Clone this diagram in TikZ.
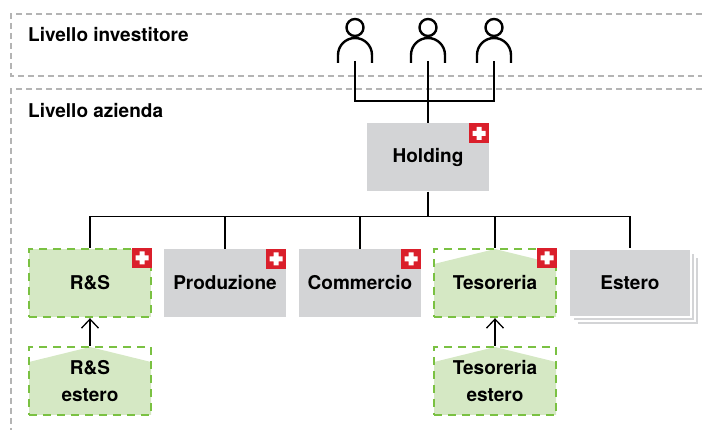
\documentclass[tikz,border=0pt]{standalone}
\usepackage{fontspec}
\setmainfont{TeX Gyre Heros}
\usepackage{xcolor}
\usetikzlibrary{arrows.meta,shadows,calc}

\definecolor{boxgray}{HTML}{D3D4D6}
\definecolor{lightgreen}{HTML}{D5E8C4}
\definecolor{dashgreen}{HTML}{7AC142}
\definecolor{swissred}{HTML}{DA1F2B}
\definecolor{levelgray}{HTML}{B4B4B4}

\tikzset{
  txt/.style={font=\bfseries\fontsize{19}{27}\selectfont, align=center},
  levelline/.style={draw=levelgray, line width=1.2pt, dash pattern=on 6pt off 4pt},
  personline/.style={line width=2.4pt},
  link/.style={line width=1.3pt},
  unit/.style={txt, minimum width=122pt, minimum height=68pt, inner sep=0pt},
  graybox/.style={unit, fill=boxgray},
  greenbox/.style={unit, fill=lightgreen, draw=dashgreen, line width=2.4pt, dash pattern=on 8pt off 6pt},
  housebox/.style={unit, draw=dashgreen, line width=2.4pt, dash pattern=on 8pt off 6pt,
    path picture={\fill[lightgreen] ($(path picture bounding box.north west)+(0,15)$)
      -- (path picture bounding box.north)
      -- ($(path picture bounding box.north east)+(0,15)$)
      |- (path picture bounding box.south west) -- cycle;}},
  flag/.style={fill=swissred, minimum width=20pt, minimum height=20pt, inner sep=0pt, anchor=north east,
    path picture={\fill[white, shift={(path picture bounding box.center)}]
      (-6.5,-2.5) rectangle (6.5,2.5) (-2.5,-6.5) rectangle (2.5,6.5);}},
  uptip/.style={-{Straight Barb[length=9pt, width=17pt]}, link}
}

\begin{document}
\begin{tikzpicture}[x=1pt, y=-1pt]
\useasboundingbox (0,0) rectangle (702,430);

% levels
\draw[levelline] (702,14) -- (11,14) -- (11,76) -- (702,76);
\draw[levelline] (702,89) -- (11,89) -- (11,430);
\node[txt, anchor=west, inner sep=0pt] (lvlinv) at (28,35) {Livello investitore};
\node[txt, anchor=west, inner sep=0pt] (lvlaz) at (28,111) {Livello azienda};

% investors
\foreach \px/\nm in {355/p1, 428/p2, 494/p3} {
  \draw[personline] (\px,27.5) circle (8.5);
  \draw[personline] (\px-17,63) -- (\px-17,55) arc (180:360:17) -- (\px+17,63);
  \coordinate (\nm) at (\px,61);
}

% company level
\node[graybox] (hold) at (428,157.5) {Holding};
\node[flag] (fhold) at (hold.north east) {};

\node[greenbox] (rs) at (90,283) {R\&S};
\node[graybox] (prod) at (225,283) {Produzione};
\node[graybox] (comm) at (360,283) {Commercio};
\node[housebox] (tes) at (495,283) {Tesoreria};
\node[graybox, draw=white, line width=1.2pt,
  double copy shadow={shadow xshift=4pt, shadow yshift=-4pt, fill=boxgray, draw=white, line width=1.2pt}]
  (est) at (630,283) {Estero};

\node[flag] (frs) at (rs.north east) {};
\node[flag] (fprod) at (prod.north east) {};
\node[flag] (fcomm) at (comm.north east) {};
\node[flag] (ftes) at (tes.north east) {};

\node[housebox] (rse) at (90,381) {R\&S\\estero};
\node[housebox] (tese) at (495,381) {Tesoreria\\estero};

% connectors
\draw[link] (p1) -- ++(0,40) coordinate (join) -| (p3);
\draw[link] (p2) -- (hold.north);
\draw[link] (hold.south) -- ++(0,25) coordinate (bus);
\draw[link] (rs.north) |- (bus) -| (est.north);
\foreach \nm in {prod, comm, tes}
  \draw[link] (\nm.north) -- (\nm.north |- bus);

\draw[uptip] (rse.north) -- (rs.south);
\draw[uptip] (tese.north) -- (tes.south);

\end{tikzpicture}
\end{document}
